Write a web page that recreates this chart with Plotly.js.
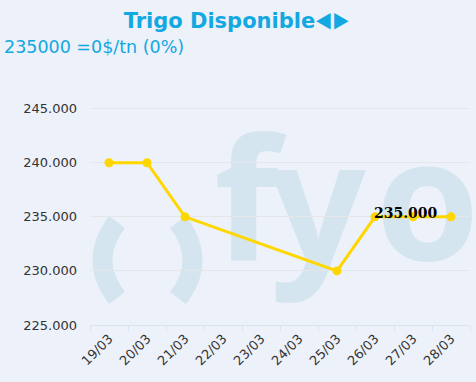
<!DOCTYPE html>
<html>
<head>
<meta charset="utf-8">
<script src="https://cdn.plot.ly/plotly-3.0.1.min.js"></script>
<style>html,body{margin:0;padding:0;background:#edf1fa;}#chart{width:476px;height:382px;}</style>
</head>
<body>
<div id="chart"></div>
<script>
const categories = ["19/03","20/03","21/03","22/03","23/03","24/03","25/03","26/03","27/03","28/03"];
const prices = [240000, 240000, 235000, null, null, null, 230000, 235000, 235000, 235000];
const labelIndex = 7;
const chartTitle = "Trigo Disponible";
const titleArrows = "◄►";
const subtitle = "235000 =0$/tn (0%)";

const blue = "#12a8e1";
const W = 476, H = 382, L = 90, R = 6, T = 87, B = 57;
const pw = W - L - R, ph = H - T - B;

const wm = "#d5e5ef";
const svg = `<svg xmlns="http://www.w3.org/2000/svg" width="${W}" height="${H}" viewBox="0 0 ${W} ${H}">
<g fill="${wm}" font-family="Noto Sans, DejaVu Sans, sans-serif" font-weight="bold" font-size="168">
<text x="214" y="260">f</text><text x="270" y="262">y</text><text x="375" y="260">o</text></g>
<g fill="none" stroke="${wm}" stroke-width="20">
<path d="M117 222 Q88 260 117 298"/><path d="M178 222 Q207 260 178 298"/></g></svg>`;
const wmURI = "data:image/svg+xml;charset=utf-8," + encodeURIComponent(svg);

const trace = {
  x: categories, y: prices, type: "scatter", mode: "lines+markers",
  connectgaps: true,
  line: {color: "#ffd700", width: 3},
  marker: {color: "#ffd700", size: 9},
  hoverinfo: "skip"
};

const layout = {
  width: W, height: H,
  margin: {l: L, r: R, t: T, b: B, pad: 0},
  paper_bgcolor: "#edf1fa",
  plot_bgcolor: "rgba(0,0,0,0)",
  separators: ",.",
  showlegend: false,
  font: {family: "DejaVu Sans, Verdana, sans-serif", color: "#333333", size: 13},
  title: {text: "<b>" + chartTitle + "<span style=\"font-family:Inter;font-size:18px\">" + titleArrows + "</span></b>",
          font: {family: "DejaVu Sans, Verdana, sans-serif", size: 21, color: blue},
          xref: "container", x: 0.497, xanchor: "center", yref: "container", y: 1 - 21/H, yanchor: "middle"},
  xaxis: {type: "category", categoryorder: "array", categoryarray: categories,
          range: [-0.5, categories.length - 0.5], tickson: "boundaries",
          tickangle: -45, ticks: "outside", ticklen: 5, tickcolor: "#dde3ea",
          showline: true, linecolor: "#dde3ea", linewidth: 1, showgrid: false,
          tickfont: {size: 13, color: "#333333"}, fixedrange: true},
  yaxis: {range: [225000, 247000], tick0: 225000, dtick: 5000, tickformat: ",.0f",
          showgrid: true, gridcolor: "#e4e6ea", gridwidth: 1, zeroline: false,
          showline: false, ticks: "", ticklabelstandoff: 12,
          tickfont: {size: 13, color: "#333333"}, fixedrange: true},
  images: [{source: wmURI, xref: "paper", yref: "paper", x: -L/pw, y: 1 + T/ph,
            sizex: W/pw, sizey: H/ph, xanchor: "left", yanchor: "top", sizing: "stretch", layer: "below"}],
  annotations: [
    {text: subtitle, xref: "paper", yref: "paper", x: (2 - L)/pw, y: (H - B - 47)/ph,
     xanchor: "left", yanchor: "middle", showarrow: false,
     font: {family: "DejaVu Sans, Verdana, sans-serif", size: 17.5, color: blue}},
    {text: "<b>" + prices[labelIndex].toLocaleString("de-DE") + "</b>", x: categories[labelIndex], y: prices[labelIndex],
     xref: "x", yref: "y", xanchor: "left", yanchor: "middle", yshift: 4, xshift: -3, showarrow: false,
     font: {family: "DejaVu Serif, serif", size: 14, color: "#000000"}}
  ]
};

Plotly.newPlot("chart", [trace], layout, {staticPlot: true, displayModeBar: false});
</script>
</body>
</html>
